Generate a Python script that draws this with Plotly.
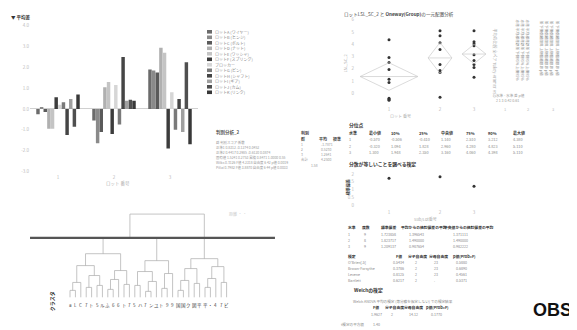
import plotly.graph_objects as go
import numpy as np

# The page body has an 8px margin, so the figure is sized to the visible area
# and page-pixel positions are converted with that offset.
PAGE_W, PAGE_H = 577, 330
OFF = 8
W, H = PAGE_W - OFF, PAGE_H - OFF
FONT = "Noto Sans CJK JP"

# ---------------- data: bar chart ----------------
lots = ["1", "2", "3"]
series_names = ["ロットA (ワイヤー)", "ロットB (ヒンジ)", "ロットC (ボルト)", "ロットD (ナット)",
                "ロットE (ワッシャ)", "ロットF (スプリング)", "ブロッカー", "ロットG (ピン)",
                "ロットH (シャフト)", "ロットI (ギア)", "ロットJ (カム)", "ロットK (リンク)"]
series_values = [
    [-0.25, -0.55, 1.90],
    [0.10, -1.65, 1.85],
    [-0.15, -1.10, 1.75],
    [-0.95, 1.05, 2.95],
    [-0.95, 1.30, 2.70],
    [0.57, -1.20, -1.90],
    [0.20, 1.15, 0.80],
    [0.33, -0.75, -1.00],
    [-1.25, 2.50, 0.48],
    [0.48, 0.40, -1.10],
    [-0.85, 0.45, 2.25],
    [0.70, 0.40, -1.70],
]
series_colors = ['#6b6b6b', '#8a8a8a', '#5a5a5a', '#b0b0b0', '#c4c4c4', '#3c3c3c',
                 '#d6d6d6', '#7a7a7a', '#454545', '#a0a0a0', '#4f4f4f', '#383838']
bar_ticks = [-3, -2, -1, 0, 1, 2, 3, 4]
bar_tick_labels = ["-3.0", "-2.0", "-1.0", "0.0", "1.0", "2.0", "3.0", "4.0"]

# ---------------- data: oneway ----------------
ow_groups = ["1", "2", "3"]
ow_weights = [2, 1, 1]
ow_values = [
    [4.38, 2.92, 2.51, 1.95, 1.14, 0.89, -0.41, -0.49, -0.57],
    [5.11, 4.70, 4.14, 3.57, 2.35, 1.87, 1.70, -0.32],
    [5.11, 4.22, 4.06, 3.89, 3.16, 2.68, 2.35, 2.11, 1.30],
]

# ---------------- data: dendrogram ----------------
leaf_labels = ["a", "L", "C", "7", "ト", "5", "ル", "ふ", "6", "6", "ト", "7", "5", "ハ", "7",
               "ン", "ユ", "ト", "9", "9", "国", "国", "ク", "図", "平", "平", "・", "4", "7", "ビ"]
tree = [84,
        [60,
         [44,
          [32, [15, [7, 0, 1], 2], [22, [10, 3, 4], [12, 5, 6]]],
          [27, [18, [8, 7, 8], 9], [13, 10, 11]]],
         [37,
          [26, [12, 12, 13], [16, [6, 14, 15], 16]],
          [24, [9, 17, 18], 19]]],
        [39,
         [29, [17, [7, 20, 21], 22], [14, 23, 24]],
         [31, [19, [10, 25, 26], 27], [15, 28, 29]]]]
cut_height = 60

# ---------------- data: tests ----------------
tests = ["O'Brien[.5]", "Brown-Forsythe", "Levene", "Bartlett"]
test_F = ["0.5434", "0.3786", "0.8125", "0.6217"]
test_dfn = ["2", "2", "2", "2"]
test_dfd = ["23", "23", "23", "."]
test_p = ["0.5880", "0.6890", "0.4561", "0.5371"]
welch = ["1.9627", "2", "14.12", "0.1770"]


def px(x):
    return (x - OFF) / W


def py(y):
    return 1 - (y - OFF) / H


fig = go.Figure()
ann = []
shapes = []


def txt(x, y, s, size=5, color='#666', bold=False, anchor='left', angle=0, family=FONT):
    ann.append(dict(x=px(x), y=py(y), xref='paper', yref='paper',
                    text=f"<b>{s}</b>" if bold else s, showarrow=False,
                    xanchor=anchor, yanchor='middle', textangle=angle, borderpad=0,
                    font=dict(size=size, color=color, family=family)))


# ---------------- bar chart ----------------
for name, vals, col in zip(series_names, series_values, series_colors):
    fig.add_trace(go.Bar(x=lots, y=vals, name=name, marker=dict(color=col, line=dict(width=0)),
                         showlegend=False, xaxis='x', yaxis='y'))

# custom compact legend
for i, (name, col) in enumerate(zip(series_names, series_colors)):
    yy = 29 + i * 5.55
    shapes.append(dict(type='rect', xref='paper', yref='paper', x0=px(207), x1=px(212),
                       y0=py(yy + 1.8), y1=py(yy - 1.8), fillcolor=col, line=dict(width=0)))
    txt(214, yy, name, size=4, color='#888')

txt(10, 15, "▼ 平均差", size=4.5, color='#333', bold=True)
txt(118, 182, "ロット 番号", size=4.5, color='#aaa', anchor='center')

# side text box
txt(215, 131, "判別分析_2", size=4.5, color='#555', bold=True)
side_lines = ["群 判別スコア 係数", "正準1 0.8312 -0.1274 0.0452",
              "正準2 0.4417 0.2985 -0.6120 0.0874",
              "固有値 1.5241 0.2753 累積 0.8471 1.0000 0.55",
              "Wilks 0.3126 F値 4.2318 自由度 6 42 p値 0.0019",
              "Pillai 0.7982 F値 3.8870 自由度 6 44 p値 0.0033"]
for i, s in enumerate(side_lines):
    txt(215, 141 + i * 5, s, size=3.4, color='#999')

# left partial table near center
txt(300, 131, "判別", size=4, color='#444', bold=True)
txt(300, 137, "群", size=4, color='#444', bold=True)
txt(318, 137, "平均", size=4, color='#444', bold=True)
txt(332, 137, "標準", size=4, color='#444', bold=True)
part_rows = [("1", "-1.7871"), ("2", "0.5230"), ("3", "1.2641"), ("合計", "4.2500")]
for i, (a, b) in enumerate(part_rows):
    txt(300, 143 + i * 5, a, size=3.4, color='#999')
    txt(320, 143 + i * 5, b, size=3.4, color='#999')
txt(310, 164, "1.58", size=3.4, color='#999')

# ---------------- dendrogram ----------------
seg_x, seg_y = [], []


def walk(node):
    if isinstance(node, int):
        return float(node), 0.0
    h, l, r = node
    xl, hl = walk(l)
    xr, hr = walk(r)
    seg_x.extend([xl, xl, xr, xr, None])
    seg_y.extend([hl, h, h, hr, None])
    return (xl + xr) / 2, h


walk(tree)
fig.add_trace(go.Scatter(x=seg_x, y=seg_y, mode='lines', line=dict(color='#aaa', width=0.7),
                         showlegend=False, xaxis='x2', yaxis='y2', hoverinfo='skip'))
shapes.append(dict(type='line', xref='x2 domain', yref='y2', x0=0.008, x1=0.98,
                   y0=cut_height, y1=cut_height, line=dict(color='#555', width=2.2)))
for i, lab in enumerate(leaf_labels):
    ann.append(dict(x=i, y=py(305), xref='x2', yref='paper', text=lab, showarrow=False,
                    xanchor='center', yanchor='middle', borderpad=0,
                    font=dict(size=4.5, color='#444', family=FONT)))
txt(52, 301, "クラスタ", size=5, color='#333', bold=True, anchor='center', angle=-90)
txt(228, 213, "距離 ・ ・", size=4, color='#ccc')

# ---------------- oneway ----------------
bounds = np.concatenate([[0], np.cumsum(ow_weights)])
centers = (bounds[:-1] + bounds[1:]) / 2
for gi, vals in enumerate(ow_values):
    v = np.array(vals)
    fig.add_trace(go.Scatter(x=[centers[gi]] * len(v), y=v, mode='markers',
                             marker=dict(size=3, color='#333'), showlegend=False,
                             xaxis='x3', yaxis='y3', hoverinfo='skip'))
    m = v.mean()
    ci = 1.96 * v.std(ddof=1) / np.sqrt(len(v))
    L, R = bounds[gi] + 0.15, bounds[gi + 1] - 0.15
    C = centers[gi]
    fig.add_trace(go.Scatter(x=[L, C, R, C, L, None, L, R], y=[m, m + ci, m, m - ci, m, None, m, m],
                             mode='lines', line=dict(color='#cccccc', width=0.7), showlegend=False,
                             xaxis='x3', yaxis='y3', hoverinfo='skip'))

txt(343, 12, "ロットLSL_SC_2 と <b>Oneway(Group)</b>の一元配置分析", size=4.6, color='#444')
txt(345, 60, "LSL_SC_2", size=4, color='#aaa', anchor='center', angle=-90)
txt(400, 114, "ロット 番号", size=4, color='#aaa', anchor='center')

# right side rotated blocks
txt(495, 60, "平均の比較 全ペア Tukey-Kramer HSD", size=4, color='#aaa', anchor='center', angle=90)
for xx in [517, 522, 527]:
    txt(xx, 48, "水準 平均 標準誤差 下側95% 上側95%", size=3.6, color='#888', anchor='center', angle=90)
for xx in [541, 546, 551, 557]:
    txt(xx, 45, "差 下側信頼限界 上側信頼限界 p値", size=3.6, color='#888', anchor='center', angle=90)
txt(495, 93, "水準 - 水準 差 p値", size=3.6, color='#999')
txt(495, 98, "2 1 3 0.42 0.61", size=3.6, color='#999')
for xx, s in zip([505, 528, 553], ["1", "2", "3"]):
    txt(xx, 107, s, size=4, color='#bbb', anchor='center')

# ---------------- quantiles table ----------------
txt(348, 123, "分位点", size=4.8, color='#333', bold=True)
q_cols = ["水準", "最小値", "10%", "25%", "中央値", "75%", "90%", "最大値"]
q_x = [348, 368, 390, 418, 440, 465, 487, 512]
for s, xx in zip(q_cols, q_x):
    txt(xx, 131, s, size=4, color='#333', bold=True)
for gi, vals in enumerate(ow_values):
    v = np.array(vals)
    q = [v.min(), *np.percentile(v, [10, 25, 50, 75, 90]), v.max()]
    txt(348, 138 + gi * 6.5, ow_groups[gi], size=3.8, color='#888')
    for xx, val in zip(q_x[1:], q):
        txt(xx, 138 + gi * 6.5, f"{val:.3f}", size=3.8, color='#888')

txt(348, 162, "分散が等しいことを調べる検定", size=4.8, color='#333', bold=True)

# std-dev plot
sds = [np.std(v, ddof=1) for v in ow_values]
fig.add_trace(go.Scatter(x=centers, y=sds, mode='markers', marker=dict(size=3, color='#333'),
                         showlegend=False, xaxis='x4', yaxis='y4', hoverinfo='skip'))
txt(348, 186, "標準偏差", size=4, color='#333', bold=True, anchor='center', angle=-90)
txt(425, 218, "Sub/Lot番号", size=4, color='#aaa', anchor='center')

# table 2
t2_cols = ["水準", "度数", "標準偏差", "平均からの絶対偏差の平均", "中央値からの絶対偏差の平均"]
t2_x = [347, 361, 380, 400, 443]
for s, xx in zip(t2_cols, t2_x):
    txt(xx, 227, s, size=3.8, color='#333', bold=True)
for gi, vals in enumerate(ow_values):
    v = np.array(vals)
    row = [ow_groups[gi], str(len(v)), f"{np.std(v, ddof=1):.6f}",
           f"{np.mean(np.abs(v - v.mean())):.6f}", f"{np.mean(np.abs(v - np.median(v))):.6f}"]
    for xx, s in zip([347, 363, 380, 408, 452], row):
        txt(xx, 233.5 + gi * 6.3, s, size=3.6, color='#888')

# table 3
t3_cols = ["検定", "F値", "分子自由度", "分母自由度", "p値(Prob>F)"]
t3_x = [347, 395, 407, 428, 452]
for s, xx in zip(t3_cols, t3_x):
    txt(xx, 256, s, size=3.8, color='#333', bold=True)
for i in range(len(tests)):
    yy = 262 + i * 6.0
    txt(347, yy, tests[i], size=3.6, color='#888')
    txt(392, yy, test_F[i], size=3.6, color='#888')
    txt(414, yy, test_dfn[i], size=3.6, color='#888')
    txt(433, yy, test_dfd[i], size=3.6, color='#888')
    txt(455, yy, test_p[i], size=3.6, color='#888')

txt(353, 290, "Welchの検定", size=4.8, color='#333', bold=True)
txt(352, 301, "Welch ANOVA 平均の検定 (等分散を仮定しない) での検定結果", size=3.6, color='#888')
for s, xx in zip(["F値", "分子自由度", "分母自由度", "p値(Prob>F)"], [372, 384, 403, 425]):
    txt(xx, 307, s, size=3.8, color='#333', bold=True)
for s, xx in zip(welch, [370, 390, 408, 430]):
    txt(xx, 314, s, size=3.6, color='#888')
txt(340, 324, "t検定の平方根", size=3.6, color='#888')
txt(372, 324, "1.40", size=3.6, color='#888')

# OBS mark
txt(552, 309.5, "OBS", size=18, color='#111', bold=True, anchor='center', family='Arial')

# ---------------- layout ----------------
faint = dict(size=4.5, color='#bbb', family=FONT)
fig.update_layout(
    width=W, height=H, margin=dict(l=0, r=0, t=0, b=0),
    paper_bgcolor='white', plot_bgcolor='white',
    barmode='group', bargap=0.22, bargroupgap=0.05,
    showlegend=False,
    xaxis=dict(domain=[px(30), px(198)], anchor='y', showgrid=False, showline=False, ticks='',
               tickfont=faint, zeroline=False),
    yaxis=dict(domain=[py(172), py(20)], anchor='x', range=[-3.1, 4.14], tickvals=bar_ticks,
               ticktext=bar_tick_labels, showgrid=False, showline=False, ticks='', tickfont=faint,
               zeroline=True, zerolinecolor='#d0d0d0', zerolinewidth=1),
    xaxis2=dict(domain=[px(28), px(280)], anchor='y2', range=[-7.78, 38.89],
                showticklabels=False, showgrid=False, showline=False, ticks='', zeroline=False),
    yaxis2=dict(domain=[py(300), py(208)], anchor='x2', range=[-3, 89], visible=False),
    xaxis3=dict(domain=[px(355), px(491)], anchor='y3', range=[0, 4], tickvals=list(centers),
                ticktext=ow_groups, tickfont=faint, showgrid=False, showline=False, ticks='',
                zeroline=False),
    yaxis3=dict(domain=[py(103), py(17)], anchor='x3', range=[-0.97, 6.0],
                tickvals=[0, 1, 2, 3, 4, 5, 6], tickfont=faint, showgrid=False, showline=False,
                ticks='', zeroline=False),
    xaxis4=dict(domain=[px(355), px(491)], anchor='y4', range=[0, 4], tickvals=list(centers),
                ticktext=ow_groups, tickfont=faint, showgrid=False, showline=False, ticks='',
                zeroline=False),
    yaxis4=dict(domain=[py(207), py(166)], anchor='x4', range=[-0.19, 2.42],
                tickvals=[0, 0.5, 1, 1.5, 2], tickfont=faint, showgrid=False, showline=False,
                ticks='', zeroline=False),
    annotations=ann, shapes=shapes,
)

fig.write_html("out.html")
